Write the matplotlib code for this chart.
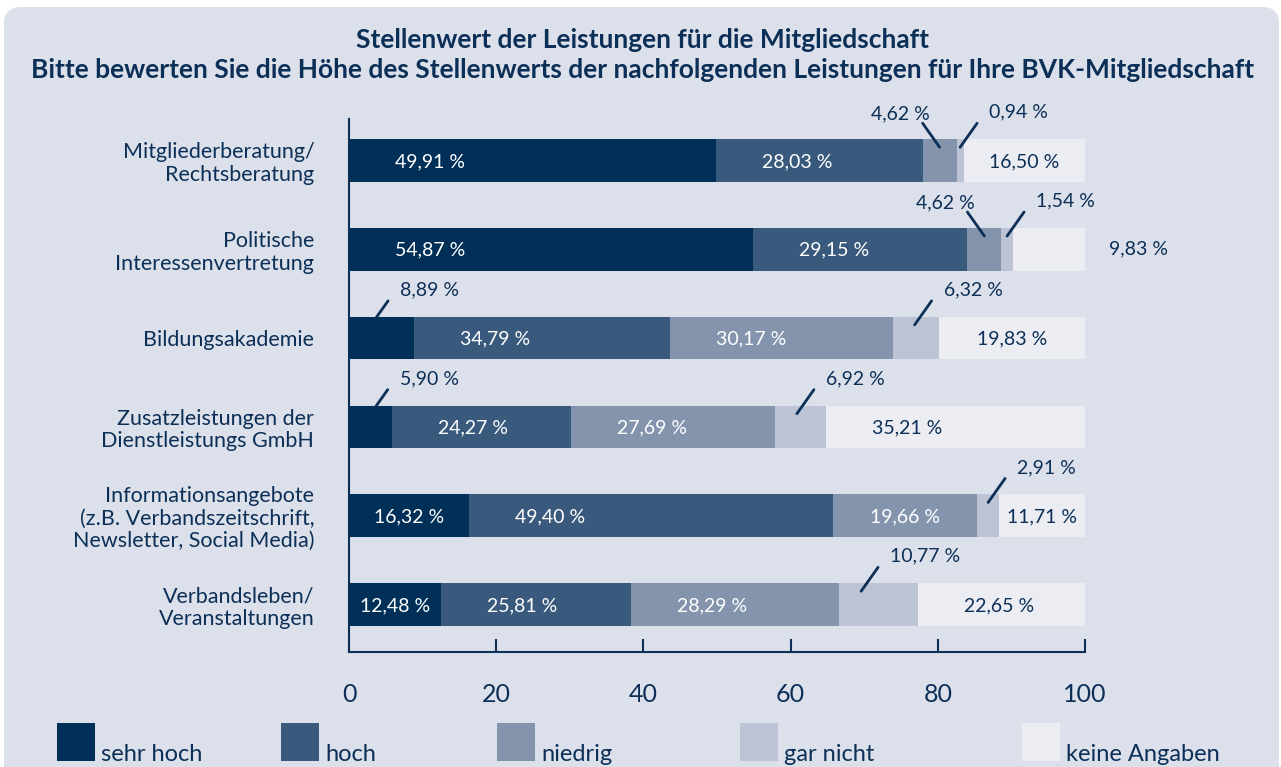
import matplotlib
matplotlib.use('Agg')
import matplotlib.pyplot as plt
from matplotlib.patches import FancyBboxPatch, Rectangle

plt.rcParams['font.family'] = ['Lato', 'DejaVu Sans']

### data
categories = ['Mitgliederberatung/\nRechtsberatung',
              'Politische\nInteressenvertretung',
              'Bildungsakademie',
              'Zusatzleistungen der\nDienstleistungs GmbH',
              'Informationsangebote\n(z.B. Verbandszeitschrift,\nNewsletter, Social Media)',
              'Verbandsleben/\nVeranstaltungen']
series = ['sehr hoch', 'hoch', 'niedrig', 'gar nicht', 'keine Angaben']
sehr_hoch = [49.91, 54.87, 8.89, 5.90, 16.32, 12.48]
hoch = [28.03, 29.15, 34.79, 24.27, 49.40, 25.81]
niedrig = [4.62, 4.62, 30.17, 27.69, 19.66, 28.29]
gar_nicht = [0.94, 1.54, 6.32, 6.92, 2.91, 10.77]
keine_angaben = [16.50, 9.83, 19.83, 35.21, 11.71, 22.65]
values = [sehr_hoch, hoch, niedrig, gar_nicht, keine_angaben]
xticks = [0, 20, 40, 60, 80, 100]

### style
W, H = 1281, 767
navy = '#0c2f57'
bg = '#dce0ea'
colors = ['#003057', '#3a5a7d', '#8494ad', '#bcc3d5', '#ecedf3']
txt_colors = ['white', 'white', 'white', navy, navy]
fmt = lambda v: ('%.2f %%' % v).replace('.', ',')
vfs = 14  # value label size

fig = plt.figure(figsize=(W / 100, H / 100), dpi=100)
fig.patch.set_facecolor('white')

# background panel + legend in pixel coordinates
bgax = fig.add_axes([0, 0, 1, 1], zorder=0)
bgax.set_xlim(0, W)
bgax.set_ylim(H, 0)
bgax.axis('off')
bgax.add_patch(FancyBboxPatch((4 + 17, 7 + 17), W - 6 - 34, 820, boxstyle='round,pad=17',
                              facecolor=bg, edgecolor='none'))
leg_x = [57, 281, 497, 740, 1022]
for i, name in enumerate(series):
    bgax.add_patch(Rectangle((leg_x[i], 723), 38, 38, facecolor=colors[i], edgecolor='none'))
    bgax.text(leg_x[i] + 44, 761, name, ha='left', va='baseline', fontsize=17, color=navy)

fig.text(643 / W, 1 - 40 / H, 'Stellenwert der Leistungen für die Mitgliedschaft',
         ha='center', va='center', fontsize=19, fontweight='bold', color=navy)
fig.text(643 / W, 1 - 70 / H,
         'Bitte bewerten Sie die Höhe des Stellenwerts der nachfolgenden Leistungen für Ihre BVK-Mitgliedschaft',
         ha='center', va='center', fontsize=19, fontweight='bold', color=navy)

### bars
ax = fig.add_axes([349 / W, 1 - 652 / H, 736 / W, 533 / H], zorder=1)
ax.set_facecolor('none')
px_y = 88.8          # pixels per category unit
bh = 42.5 / px_y
ypos = list(range(len(categories)))

left = [0.0] * len(categories)
for s in range(len(series)):
    vals = values[s]
    ax.barh(ypos, vals, left=left, height=bh, color=colors[s], edgecolor='none', zorder=2)
    for i, v in enumerate(vals):
        start = left[i]
        mid = start + v / 2
        top = i - bh / 2
        if s == 4 and v < 10:
            # outside, right of the bar
            ax.annotate(fmt(v), xy=(start + v, i), xytext=(24 * 0.72, 0), textcoords='offset points',
                        ha='left', va='center', fontsize=vfs, color=navy)
        elif s == 3 or v < 9:
            # leader line label
            xb = start + min(v / 2, 3.0)
            yb = top + 8 / px_y
            side = -1 if s == 2 else 1
            ax.annotate('', xy=(xb, yb), xytext=(side * 17 * 0.72, 24 * 0.72), textcoords='offset points',
                        arrowprops=dict(arrowstyle='-', lw=2, color=navy, shrinkA=0, shrinkB=0))
            if side > 0:
                ax.annotate(fmt(v), xy=(xb, yb), xytext=(29 * 0.72, 35 * 0.72), textcoords='offset points',
                            ha='left', va='center', fontsize=vfs, color=navy)
            else:
                ax.annotate(fmt(v), xy=(xb, yb), xytext=(-10 * 0.72, 33 * 0.72), textcoords='offset points',
                            ha='right', va='center', fontsize=vfs, color=navy)
        else:
            ax.text(min(mid, start + 11), i + 1 / px_y, fmt(v), ha='center', va='center',
                    fontsize=vfs, color=txt_colors[s], zorder=3)
    left = [a + b for a, b in zip(left, vals)]

ax.set_xlim(0, 100)
ax.set_ylim((652 - 160.5) / px_y, -(160.5 - 119) / px_y)
ax.set_yticks(ypos)
ax.set_yticklabels(categories, fontsize=15.5, color=navy, linespacing=1.15)
ax.tick_params(axis='y', length=0, pad=25)
ax.set_xticks(xticks)
ax.set_xticklabels([str(t) for t in xticks], fontsize=18, color=navy)
ax.tick_params(axis='x', direction='in', length=9.5, width=1.5, color=navy, pad=22)
for sp in ['top', 'right']:
    ax.spines[sp].set_visible(False)
for sp in ['left', 'bottom']:
    ax.spines[sp].set_color(navy)
    ax.spines[sp].set_linewidth(1.5)
    ax.spines[sp].set_zorder(1)

plt.savefig('out.png', dpi=100)
